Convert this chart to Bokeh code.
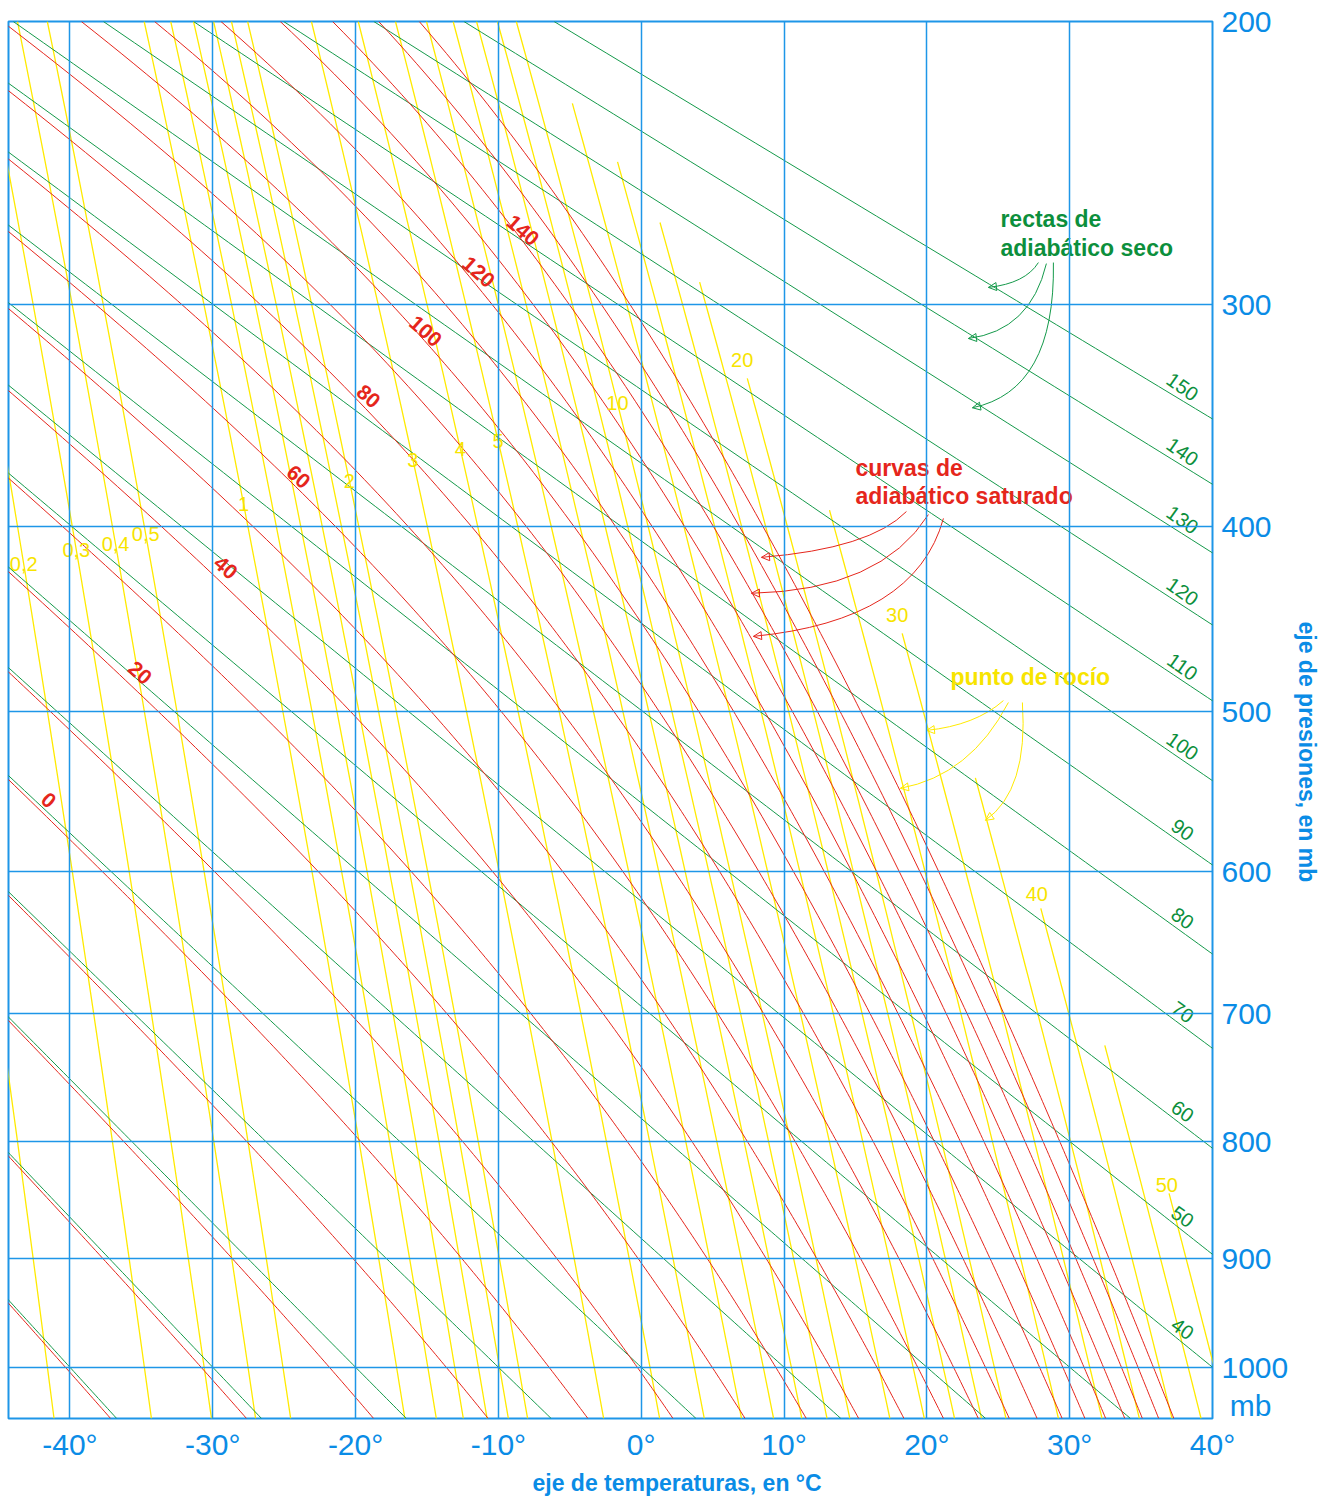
import numpy as np
from bokeh.plotting import figure
from bokeh.models import (Range1d, FixedTicker, CustomJSTickFormatter, Label, Arrow,
                          NormalHead, Title)
from bokeh.core.properties import value
from bokeh.embed import file_html
from bokeh.resources import INLINE

KAPPA = 0.286
FONT = "Liberation Sans"

# ---------------- data ----------------
temp_ticks = [-40, -30, -20, -10, 0, 10, 20, 30, 40]              # °C
pressure_ticks = [200, 300, 400, 500, 600, 700, 800, 900, 1000]  # mb
unit_label_p = 1037                                               # where "mb" sits
t_left, t_right = -44.3, 40.0
p_top, p_bottom = 200.0, 1050.0

# dry adiabats (potential temperature, °C)
dry_theta = [-40, -30, -20, -10, 0, 10, 20, 30, 40, 50, 60, 70, 80, 90,
             100, 110, 120, 130, 140, 150]
dry_label_theta = [150, 140, 130, 120, 110, 100, 90, 80, 70, 60, 50, 40]
dry_label_t = 37.9

# saturated (pseudo) adiabats, labelled by equivalent potential temperature, °C
moist_theta_e = [-40, -30, -20, -10, 0, 10, 20, 30, 40, 50, 60, 70, 80, 90,
                 100, 110, 120, 130, 140, 150, 160]
moist_label_theta_e = [0, 20, 40, 60, 80, 100, 120, 140]
moist_label_t = [-41.5, -35.1, -29.1, -24.0, -19.1, -15.1, -11.4, -8.3]
moist_label_p = [554, 478, 421, 376, 339, 311, 287, 271]

# mixing-ratio (dew point) lines, g/kg, with the pressure where each line begins
mix_ratio = [0.1, 0.2, 0.3, 0.4, 0.5, 1, 1.2, 1.4, 1.6, 1.8, 2, 3, 4, 5, 6, 7, 8, 9, 10,
             12, 14, 16, 18, 20, 25, 30, 35, 40, 45, 50]
mix_top_p = [200] * 19 + [226, 246, 268, 291, 331, 392, 456, 540, 625, 724, 843]
mix_label_text = ["0,2", "0,3", "0,4", "0,5", "1", "2", "3", "4", "5", "10", "20", "30", "40", "50"]
mix_label_w = [0.2, 0.3, 0.4, 0.5, 1, 2, 3, 4, 5, 10, 20, 30, 40, 50]
mix_label_p = [419, 412, 409, 404, 389, 378, 368, 363, 359, 342, 323, 446, 615, 836]

# annotation call-outs: (start, control, end) as (°C, mb)
green_curves = [((27.81, 283.3), (26.90, 291.5), (24.31, 293.1)),
                ((28.37, 283.7), (27.25, 310.7), (22.91, 314.0)),
                ((28.86, 283.3), (29.00, 336.4), (23.19, 344.0))]
red_curves = [((18.57, 392.7), (16.05, 411.2), (8.42, 415.7)),
              ((20.11, 394.2), (16.75, 432.9), (7.72, 434.4)),
              ((21.16, 396.1), (19.20, 449.0), (7.86, 457.6))]
yellow_curves = [((25.36, 493.8), (23.40, 508.3), (19.97, 511.3)),
                 ((25.71, 494.9), (23.05, 538.5), (18.15, 546.5)),
                 ((26.69, 494.9), (27.11, 547.7), (24.10, 566.7))]

BLUE = "#1e96e8"
BLUE_TEXT = "#0a8ce6"
GREEN = "#14994a"
GREEN_TEXT = "#0c8f3c"
RED = "#e5261c"
YELLOW = "#ffea00"
YELLOW_TEXT = "#f7e400"


def u(p):
    return np.asarray(p, dtype=float) ** KAPPA


def sat_vp(tc):
    return 6.112 * np.exp(17.67 * tc / (tc + 243.5))


def theta_e_sat(tc, p):
    e = sat_vp(tc)
    r = 622.0 * e / (p - e)
    tk = tc + 273.15
    return tk * (1000.0 / p) ** (0.2854 * (1 - 0.00028 * r)) * \
        np.exp((3.376 / tk - 0.00254) * r * (1 + 0.00081 * r))


def moist_T(the, p):
    lo = np.full_like(p, -110.0)
    hi = np.full_like(p, 45.0)
    target = the + 273.15
    for _ in range(60):
        mid = 0.5 * (lo + hi)
        f = theta_e_sat(mid, p) > target
        hi = np.where(f, mid, hi)
        lo = np.where(f, lo, mid)
    return 0.5 * (lo + hi)


def dewpoint(w, p):
    e = w * p / (622.0 + w)
    a = np.log(e / 6.112)
    return 243.5 * a / (17.67 - a)


p_grid = np.linspace(p_top, p_bottom, 260)

p = figure(frame_width=1204, frame_height=1397,
           x_range=Range1d(t_left, t_right),
           y_range=Range1d(float(u(p_bottom)), float(u(p_top))),
           y_axis_location="right", output_backend="svg", toolbar_location=None,
           min_border_left=8, min_border_top=21, min_border_right=106, min_border_bottom=80,
           background_fill_color="white", border_fill_color="white")

# axes
p.xaxis.ticker = FixedTicker(ticks=temp_ticks)
p.xaxis.formatter = CustomJSTickFormatter(code="return tick + '\u00b0';")
p.yaxis.ticker = FixedTicker(ticks=[float(v) for v in u(pressure_ticks + [unit_label_p])])
p.yaxis.formatter = CustomJSTickFormatter(
    code=("const v = Math.round(Math.pow(tick, 1/%s));"
          "return v > 1010 ? '\u00a0mb' : v.toString();") % KAPPA)
for ax in (p.xaxis, p.yaxis):
    ax.axis_line_color = None
    ax.major_tick_line_color = None
    ax.minor_tick_line_color = None
    ax.major_label_text_font = FONT
    ax.major_label_text_font_size = "30px"
    ax.major_label_text_color = BLUE_TEXT
p.xaxis.major_label_standoff = 3
p.yaxis.major_label_standoff = 3

p.xgrid.ticker = FixedTicker(ticks=temp_ticks)
p.ygrid.ticker = FixedTicker(ticks=[float(v) for v in u(pressure_ticks)])
p.grid.grid_line_color = BLUE
p.grid.grid_line_width = 1.5
p.grid.level = "overlay"
p.outline_line_color = BLUE
p.outline_line_width = 2

# axis titles
p.add_layout(Title(text="eje de temperaturas, en °C", align="left", offset=524, standoff=8,
                   text_font=FONT, text_font_size="23px", text_font_style="bold",
                   text_color=BLUE_TEXT), "below")
p.add_layout(Title(text="eje de presiones, en mb", align="left", offset=600, standoff=4,
                   text_font=FONT, text_font_size="23px", text_font_style="bold",
                   text_color=BLUE_TEXT), "right")

# mixing ratio lines (yellow)
mx, my = [], []
for w, pt in zip(mix_ratio, mix_top_p):
    pg = np.linspace(pt, p_bottom, 120)
    mx.append(dewpoint(w, pg))
    my.append(u(pg))
p.multi_line(xs=mx, ys=my, line_color=YELLOW, line_width=1.3)

# dry adiabats (green)
dx = [(th + 273.15) * (p_grid / 1000.0) ** KAPPA - 273.15 for th in dry_theta]
p.multi_line(xs=dx, ys=[u(p_grid)] * len(dx), line_color=GREEN, line_width=1)

# saturated adiabats (red)
moist_curves = {the: moist_T(the, p_grid) for the in moist_theta_e}
p.multi_line(xs=[moist_curves[t] for t in moist_theta_e], ys=[u(p_grid)] * len(moist_theta_e),
             line_color=RED, line_width=1)

# labels on the green lines
gl_p = [1000.0 * ((dry_label_t + 273.15) / (th + 273.15)) ** (1 / KAPPA) for th in dry_label_theta]
p.text(x=[dry_label_t] * len(gl_p), y=list(u(gl_p)), text=[str(t) for t in dry_label_theta],
       angle=-0.62, y_offset=-14, text_align="center", text_baseline="middle",
       text_font=value(FONT), text_font_size="20px", text_color=GREEN_TEXT)

# labels on the red lines
p.text(x=moist_label_t, y=list(u(moist_label_p)), text=[str(t) for t in moist_label_theta_e],
       angle=-0.72, text_align="center", text_baseline="middle",
       text_font=value(FONT), text_font_size="21px", text_font_style="bold", text_color=RED)

# labels on the yellow lines
yl_t = [float(dewpoint(w, pp)) for w, pp in zip(mix_label_w, mix_label_p)]
p.text(x=yl_t, y=list(u(mix_label_p)), text=mix_label_text,
       text_align="center", text_baseline="middle",
       text_font=value(FONT), text_font_size="20px", text_color=YELLOW_TEXT)


def callouts(curves, color):
    x0 = [c[0][0] for c in curves]
    y0 = [float(u(c[0][1])) for c in curves]
    cx = [c[1][0] for c in curves]
    cy = [float(u(c[1][1])) for c in curves]
    x1 = [c[2][0] for c in curves]
    y1 = [float(u(c[2][1])) for c in curves]
    p.quadratic(x0=x0, y0=y0, x1=x1, y1=y1, cx=cx, cy=cy, line_color=color, line_width=1)
    for a, b, c, d in zip(cx, cy, x1, y1):
        p.add_layout(Arrow(end=NormalHead(size=8, fill_color=None, line_color=color, line_width=1),
                           x_start=c - 0.02 * (c - a), y_start=d - 0.02 * (d - b),
                           x_end=c, y_end=d, line_alpha=0))


callouts(green_curves, GREEN)
callouts(red_curves, RED)
callouts(yellow_curves, YELLOW)


def add_label(text, t, pr, color, size, align="left", angle=0.0, style="bold"):
    p.add_layout(Label(x=t, y=float(u(pr)), text=text, text_color=color, text_font=FONT,
                       text_font_size=size, text_font_style=style, text_align=align,
                       text_baseline="middle", angle=angle))


add_label("rectas de", 25.15, 266.8, GREEN_TEXT, "23px")
add_label("adiabático seco", 25.15, 277.5, GREEN_TEXT, "23px")
add_label("curvas de", 15.0, 371.5, RED, "23px")
add_label("adiabático saturado", 15.0, 384.9, RED, "23px")
add_label("punto de rocío", 21.65, 480.0, YELLOW_TEXT, "23px")

open("out.html", "w").write(file_html(p, INLINE))
